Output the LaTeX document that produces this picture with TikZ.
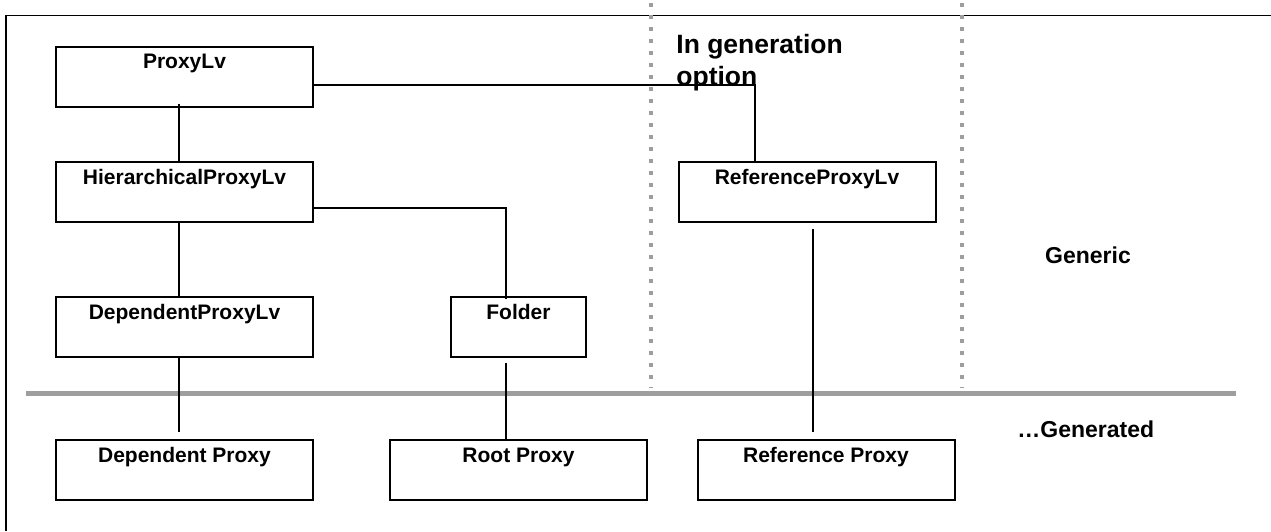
\documentclass[tikz,border=0pt]{standalone}
\usepackage{fontspec}
\setmainfont{Liberation Sans}
\definecolor{divider}{RGB}{158,158,158}

\begin{document}
\begin{tikzpicture}[x=0.5pt,y=-0.5pt,
  box/.style={draw,line width=1pt,inner sep=0pt,minimum width=128.5pt,text height=11pt,text depth=19pt,font=\fontsize{10.5}{12}\selectfont\bfseries},
  link/.style={line width=0.8pt},
  zone/.style={divider,line width=2pt,dash pattern=on 2pt off 4pt}]
 \useasboundingbox (0,0) rectangle (1271,531);
 \draw[line width=0.8pt] (1271,15.5) -- (6,15.5) -- (6,531);
 \draw[zone] (651,3) -- (651,388);
 \draw[zone] (962,3) -- (962,388);
 \draw[divider,line width=2.5pt] (26,393) -- (1236,393);

 \node[box] (proxy) at (184.5,76.5) {ProxyLv};
 \node[box] (hier) at (184.5,192) {HierarchicalProxyLv};
 \node[box] (dep) at (184.5,327) {DependentProxyLv};
 \node[box,minimum width=67.5pt] (folder) at (518.5,327) {Folder};
 \node[box] (reflv) at (807,192) {ReferenceProxyLv};
 \node[box] (depproxy) at (184.5,470) {Dependent Proxy};
 \node[box] (rootproxy) at (518.5,470) {Root Proxy};
 \node[box] (refproxy) at (826,470) {Reference Proxy};

 \node[anchor=base west,align=left,inner sep=0pt,font=\fontsize{13.25}{16}\selectfont\bfseries] (option) at (676,85) {In generation\\option};
 \node[anchor=base,inner sep=0pt,font=\fontsize{11.5}{14}\selectfont\bfseries] (generic) at (1088,263) {Generic};
 \node[anchor=base west,inner sep=0pt,font=\fontsize{11.5}{14}\selectfont\bfseries] (generated) at (1017,437) {\ldots Generated};

 \draw[link] ([xshift=-2.75pt,yshift=2pt]proxy.south) -- ([xshift=-2.75pt]hier.north);
 \draw[link] ([yshift=-4.25pt]proxy.east) -| ([xshift=-26pt]reflv.north);
 \draw[link] ([yshift=-8pt]hier.east) -| ([xshift=-6.25pt,yshift=-1.5pt]folder.north);
 \draw[link] ([xshift=-2.75pt]hier.south) -- ([xshift=-2.75pt]dep.north);
 \draw[link] ([xshift=-2.75pt]dep.south) -- ([xshift=-2.75pt,yshift=3.5pt]depproxy.north);
 \draw[link] ([xshift=-6.25pt,yshift=-2.5pt]folder.south) -- ([xshift=-6.25pt]rootproxy.north);
 \draw[link] ([xshift=3pt,yshift=-3pt]reflv.south) -- ([xshift=-6.5pt,yshift=3.5pt]refproxy.north);
\end{tikzpicture}
\end{document}
